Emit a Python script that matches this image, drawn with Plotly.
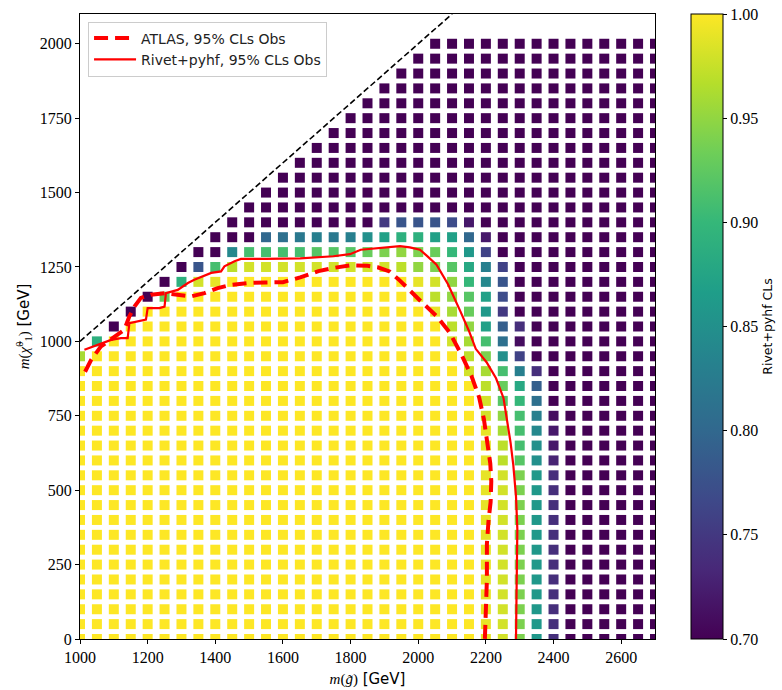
import plotly.graph_objects as go

# Gluino mass columns (GeV)
M_GLUINO = [1000, 1050, 1100, 1150, 1200, 1250, 1300, 1350, 1400, 1450,
            1500, 1550, 1600, 1650, 1700, 1750, 1800, 1850, 1900, 1950,
            2000, 2050, 2100, 2150, 2200, 2250, 2300, 2350, 2400, 2450,
            2500, 2550, 2600, 2650, 2700]

# Neutralino mass rows (GeV), listed top to bottom
M_NEUTRALINO = [2000, 1950, 1900, 1850, 1800, 1750, 1700, 1650, 1600, 1550,
                1500, 1450, 1400, 1350, 1300, 1250, 1200, 1150, 1100, 1050,
                1000, 950, 900, 850, 800, 750, 700, 650, 600, 550,
                500, 450, 400, 350, 300, 250, 200, 150, 100, 50, 0]

# One character per grid point; "." means the point was not simulated.
CLS_CODES = "0123456789ABCDEFGHIJKLMNOPQRSTU"
CLS_VALUES = [0.70, 0.71, 0.72, 0.73, 0.74, 0.75, 0.76, 0.77, 0.78, 0.79,
              0.80, 0.81, 0.82, 0.83, 0.84, 0.85, 0.86, 0.87, 0.88, 0.89,
              0.90, 0.91, 0.92, 0.93, 0.94, 0.95, 0.96, 0.97, 0.98, 0.99,
              1.00]

# Rivet+pyhf CLs per grid point, groups of five gluino masses
CLS_ROWS = [
    "..... ..... ..... ..... .0000 00000 00000",  # 2000
    "..... ..... ..... ..... 00000 00000 00000",  # 1950
    "..... ..... ..... ....0 00000 00000 00000",  # 1900
    "..... ..... ..... ...00 00000 00000 00000",  # 1850
    "..... ..... ..... ..000 00000 00000 00000",  # 1800
    "..... ..... ..... .0000 00000 00000 00000",  # 1750
    "..... ..... ..... 00000 00000 00000 00000",  # 1700
    "..... ..... ....0 00000 00000 00000 00000",  # 1650
    "..... ..... ...00 00000 00000 00000 00000",  # 1600
    "..... ..... ..000 00000 00000 00000 00000",  # 1550
    "..... ..... .0000 00000 00000 00000 00000",  # 1500
    "..... ..... 00000 00000 00000 00000 00000",  # 1450
    "..... ....0 00000 00058 88720 00000 00000",  # 1400
    "..... ...00 0ABCD CDFHJ JHHA2 00000 00000",  # 1350
    "..... ..00E LLLLM MMNOP ONKG6 00000 00000",  # 1300
    "..... .08LR SSSSS SSSSR POMID 60000 00000",  # 1250
    "..... 0JSTU UUUUU UUUUU TSPKE 80000 00000",  # 1200
    "....0 NUUUU UUUUU UUUUU TRPMH 70000 00000",  # 1150
    "...0U UUUUU UUUUU UUUUU UTQNG 50000 00000",  # 1100
    "..0UU UUUUU UUUUU UUUUU UURPH 94000 00000",  # 1050
    ".JUUU UUUUU UUUUU UUUUU UUSQL B1000 00000",  # 1000
    "QUUUU UUUUU UUUUU UUUUU UUURO F6000 00000",  # 950
    "UUUUU UUUUU UUUUU UUUUU UUUSQ LD400 00000",  # 900
    "UUUUU UUUUU UUUUU UUUUU UUUUR NI900 00000",  # 850
    "UUUUU UUUUU UUUUU UUUUU UUUUS MKB00 00000",  # 800
    "UUUUU UUUUU UUUUU UUUUU UUUUS PLD10 00000",  # 750
    "UUUUU UUUUU UUUUU UUUUU UUUUT QLE20 00000",  # 700
    "UUUUU UUUUU UUUUU UUUUU UUUUT RLF20 00000",  # 650
    "UUUUU UUUUU UUUUU UUUUU UUUUT RMF30 00000",  # 600
    "UUUUU UUUUU UUUUU UUUUU UUUUT SOG40 00000",  # 550
    "UUUUU UUUUU UUUUU UUUUU UUUUT SOG40 00000",  # 500
    "UUUUU UUUUU UUUUU UUUUU UUUUT SOG40 00000",  # 450
    "UUUUU UUUUU UUUUU UUUUU UUUUT SOG40 00000",  # 400
    "UUUUU UUUUU UUUUU UUUUU UUUUT SOG40 00000",  # 350
    "UUUUU UUUUU UUUUU UUUUU UUUUT SOG40 00000",  # 300
    "UUUUU UUUUU UUUUU UUUUU UUUUT SOG40 00000",  # 250
    "UUUUU UUUUU UUUUU UUUUU UUUUT SOG40 00000",  # 200
    "UUUUU UUUUU UUUUU UUUUU UUUUT SOG40 00000",  # 150
    "UUUUU UUUUU UUUUU UUUUU UUUUT SOG40 00000",  # 100
    "UUUUU UUUUU UUUUU UUUUU UUUUT SOG40 00000",  # 50
    "UUUUU UUUUU UUUUU UUUUU UUUUT SOG40 00000",  # 0
]

# ATLAS observed 95% CLs exclusion contour
ATLAS_X = [1015, 1033, 1062, 1102, 1131, 1146, 1161, 1180, 1210, 1250,
           1289, 1328, 1368, 1407, 1447, 1496, 1550, 1600, 1651, 1705,
           1750, 1798, 1850, 1880, 1915, 1945, 2003, 2055, 2094, 2128,
           2158, 2180, 2194, 2205, 2213, 2216, 2214, 2208, 2203, 2203,
           2200, 2197]
ATLAS_Y = [898, 938, 983, 1017, 1039, 1084, 1117, 1146, 1157, 1162,
           1157, 1151, 1162, 1179, 1190, 1196, 1198, 1199, 1215, 1236,
           1247, 1255, 1254, 1249, 1235, 1205, 1140, 1084, 1028, 955,
           882, 812, 740, 660, 590, 530, 460, 400, 320, 200,
           110, 0]

# Rivet+pyhf observed 95% CLs contour
RIVET_X = [1013, 1052, 1092, 1121, 1141, 1146, 1171, 1195, 1200, 1235,
           1250, 1254, 1289, 1319, 1338, 1388, 1417, 1427, 1457, 1476,
           1550, 1651, 1749, 1798, 1830, 1897, 1946, 1975, 2005, 2025,
           2054, 2088, 2108, 2125, 2150, 2170, 2202, 2230, 2252, 2264,
           2273, 2281, 2289, 2293, 2292, 2290, 2289, 2289]
RIVET_Y = [972, 989, 1005, 1011, 1011, 1061, 1067, 1073, 1112, 1112,
           1117, 1162, 1173, 1196, 1207, 1230, 1235, 1252, 1269, 1277,
           1277, 1279, 1286, 1293, 1308, 1315, 1320, 1316, 1308, 1288,
           1258, 1192, 1145, 1100, 1035, 975, 930, 876, 810, 730,
           660, 585, 480, 370, 260, 150, 60, 0]

# Kinematic boundary m(gluino) = m(neutralino)
DIAG_X = [1000, 2100]
DIAG_Y = [1000, 2100]

X_TICKS = [1000, 1200, 1400, 1600, 1800, 2000, 2200, 2400, 2600]
Y_TICKS = [0, 250, 500, 750, 1000, 1250, 1500, 1750, 2000]
CB_TICKS = [0.70, 0.75, 0.80, 0.85, 0.90, 0.95, 1.00]

SERIF = "Liberation Serif"
SANS = "DejaVu Sans"

pts_x, pts_y, pts_c = [], [], []
for m_chi, row in zip(M_NEUTRALINO, CLS_ROWS):
    cells = row.replace(" ", "")
    assert len(cells) == len(M_GLUINO), (m_chi, len(cells))
    for m_glu, ch in zip(M_GLUINO, cells):
        if ch != ".":
            pts_x.append(m_glu)
            pts_y.append(m_chi)
            pts_c.append(CLS_VALUES[CLS_CODES.index(ch)])

fig = go.Figure()

fig.add_trace(go.Scatter(
    x=pts_x, y=pts_y, mode="markers", showlegend=False, hoverinfo="skip",
    marker=dict(
        symbol="square", size=10, color=pts_c,
        colorscale="Viridis", cmin=0.70, cmax=1.00,
        line=dict(width=0),
        colorbar=dict(
            x=1.0626, xanchor="left", xpad=0, ypad=0,
            y=0.5, yanchor="middle", len=1.0, lenmode="fraction",
            thickness=32, outlinewidth=1, outlinecolor="black",
            tickvals=CB_TICKS, tickformat=".2f", ticks="outside",
            ticklen=4, tickcolor="black",
            tickfont=dict(family=SERIF, size=16, color="black"),
            title=dict(text="Rivet+pyhf CLs", side="right",
                       font=dict(family=SANS, size=12.5, color="black")),
        ),
    ),
))

fig.add_trace(go.Scatter(
    x=DIAG_X, y=DIAG_Y, mode="lines", showlegend=False, hoverinfo="skip",
    line=dict(color="black", width=1.6, dash="6px,3px"),
))

fig.add_trace(go.Scatter(
    x=ATLAS_X, y=ATLAS_Y, mode="lines", name="ATLAS, 95% CLs Obs",
    line=dict(color="#ff0000", width=4, dash="14px,7px"),
))

fig.add_trace(go.Scatter(
    x=RIVET_X, y=RIVET_Y, mode="lines", name="Rivet+pyhf, 95% CLs Obs",
    line=dict(color="#ff0000", width=2.2),
))

axis_common = dict(
    showgrid=False, zeroline=False, showline=True, linecolor="black",
    linewidth=1.2, mirror=True, ticks="outside", ticklen=4,
    tickcolor="black", tickwidth=1, automargin=False,
    tickfont=dict(family=SERIF, size=16, color="black"),
)

fig.update_layout(
    width=782, height=690,
    margin=dict(l=80, r=127, t=14, b=51, autoexpand=False),
    paper_bgcolor="white", plot_bgcolor="white",
    xaxis=dict(
        range=[1000, 2700], tickvals=X_TICKS,
        title=dict(
            text='<span style="font-family:Liberation Serif"><i>m</i>(<i>g\u0303</i>)</span> [GeV]',
            font=dict(family=SANS, size=15, color="black"), standoff=8),
        **axis_common),
    yaxis=dict(
        range=[0, 2100], tickvals=Y_TICKS,
        title=dict(
            text='<span style="font-family:Liberation Serif"><i>m</i>(<i>\u03c7\u0303</i><sup>0</sup><sub>1</sub>)</span> [GeV]',
            font=dict(family=SANS, size=15, color="black"), standoff=6),
        **axis_common),
    legend=dict(
        x=0.014, y=0.988, xanchor="left", yanchor="top",
        bgcolor="rgba(255,255,255,0.85)", bordercolor="#cccccc", borderwidth=1,
        font=dict(family=SANS, size=14, color="#222222"),
        tracegroupgap=0, itemwidth=42,
    ),
)

fig.write_html("out.html")
